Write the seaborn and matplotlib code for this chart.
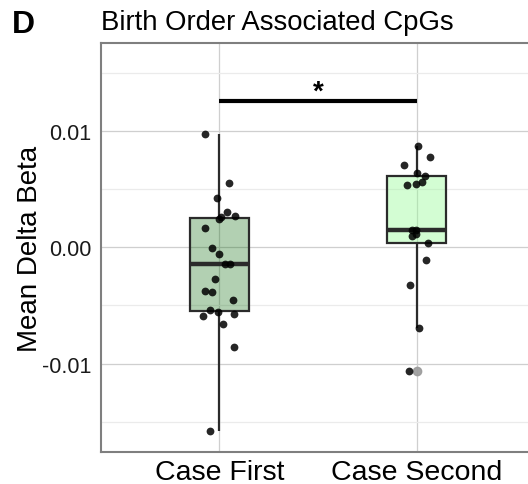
import numpy as np
import pandas as pd
import seaborn as sns
import matplotlib.pyplot as plt
from matplotlib.colors import to_rgba

# ---- data ----
groups = ["Case First", "Case Second"]
case_first = [0.00977, 0.00556, 0.00427, 0.00306, 0.00272, 0.00258, 0.00245,
              0.00163, -0.00003, -0.00055, -0.00141, -0.00141, -0.00273,
              -0.00376, -0.00384, -0.00453, -0.00536, -0.00560, -0.00576,
              -0.00588, -0.00662, -0.00857, -0.01582]
case_second = [0.00874, 0.00776, 0.00705, 0.00636, 0.00616, 0.00564, 0.00542,
               0.00533, 0.00151, 0.00146, 0.00114, 0.00095, 0.00034, -0.00109,
               -0.00327, -0.00691, -0.01061]
y_ticks = [-0.01, 0.0, 0.01]
y_tick_labels = ["-0.01", "0.00", "0.01"]
y_minor_ticks = [-0.015, -0.005, 0.005, 0.015]
sig_y = 0.01258
sig_label = "*"
title = "Birth Order Associated CpGs"
panel_letter = "D"
y_label = "Mean Delta Beta"

df = pd.DataFrame({
    "group": [groups[0]] * len(case_first) + [groups[1]] * len(case_second),
    "value": case_first + case_second,
})

sns.set_style("white")
plt.rcParams["font.family"] = ["Liberation Sans", "DejaVu Sans"]
plt.rcParams["axes.unicode_minus"] = False
plt.rcParams["text.color"] = "black"

W, H = 528, 485
fig = plt.figure(figsize=(W / 100, H / 100), dpi=100)
ax = fig.add_axes([101 / W, (H - 453) / H, (535 - 101) / W, (453 - 44) / H])

box_fill = [to_rgba("#006400", 0.30), to_rgba("#98fb98", 0.42)]

sns.boxplot(data=df, x="group", y="value", order=groups, color="white",
            saturation=1, width=0.3, linecolor="#2b2b2b", linewidth=1.6,
            medianprops={"linewidth": 3.2, "color": "#2b2b2b"},
            capprops={"visible": False},
            flierprops={"marker": "o", "markerfacecolor": "#9a9a9a",
                        "markeredgecolor": "#9a9a9a", "alpha": 0.9},
            fliersize=6, ax=ax, zorder=2)

for patch, fc in zip(ax.patches, box_fill):
    patch.set_facecolor(fc)

np.random.seed(7)
sns.stripplot(data=df, x="group", y="value", order=groups, color="black",
              alpha=0.85, size=5.6, jitter=0.085, ax=ax, zorder=3)

ax.set_xlim(-0.6, 1.6)
ax.set_ylim(-0.0176, 0.01757)
ax.set_yticks(y_ticks)
ax.set_yticklabels(y_tick_labels)
ax.set_yticks(y_minor_ticks, minor=True)
ax.set_axisbelow(True)
ax.grid(which="major", axis="both", color="#cfcfcf", linewidth=0.9)
ax.grid(which="minor", axis="y", color="#ebebeb", linewidth=0.9)
ax.tick_params(axis="y", which="minor", length=0)
ax.tick_params(axis="both", which="major", length=4, width=1.2,
               color="#7f7f7f", direction="out")
ax.tick_params(axis="y", labelsize=15.5, labelcolor="#1a1a1a", pad=3)
ax.tick_params(axis="x", labelsize=20.5, labelcolor="#000000", pad=1)
for s in ax.spines.values():
    s.set_color("#7f7f7f")
    s.set_linewidth(1.5)

ax.set_xlabel("")
ax.set_ylabel(y_label, fontsize=20, labelpad=-1, color="black")

ax.plot([0, 1], [sig_y, sig_y], color="black", linewidth=3, solid_capstyle="butt", zorder=4)
ax.text(0.5, sig_y + 0.0008, sig_label, ha="center", va="center",
        fontsize=20, fontweight="bold")

fig.text(101 / W, 1 - 23 / H, title, fontsize=19.8, va="center", ha="left")
fig.text(12 / W, 1 - 25 / H, panel_letter, fontsize=23, fontweight="bold",
         va="center", ha="left")

fig.savefig("out.png", dpi=100)
